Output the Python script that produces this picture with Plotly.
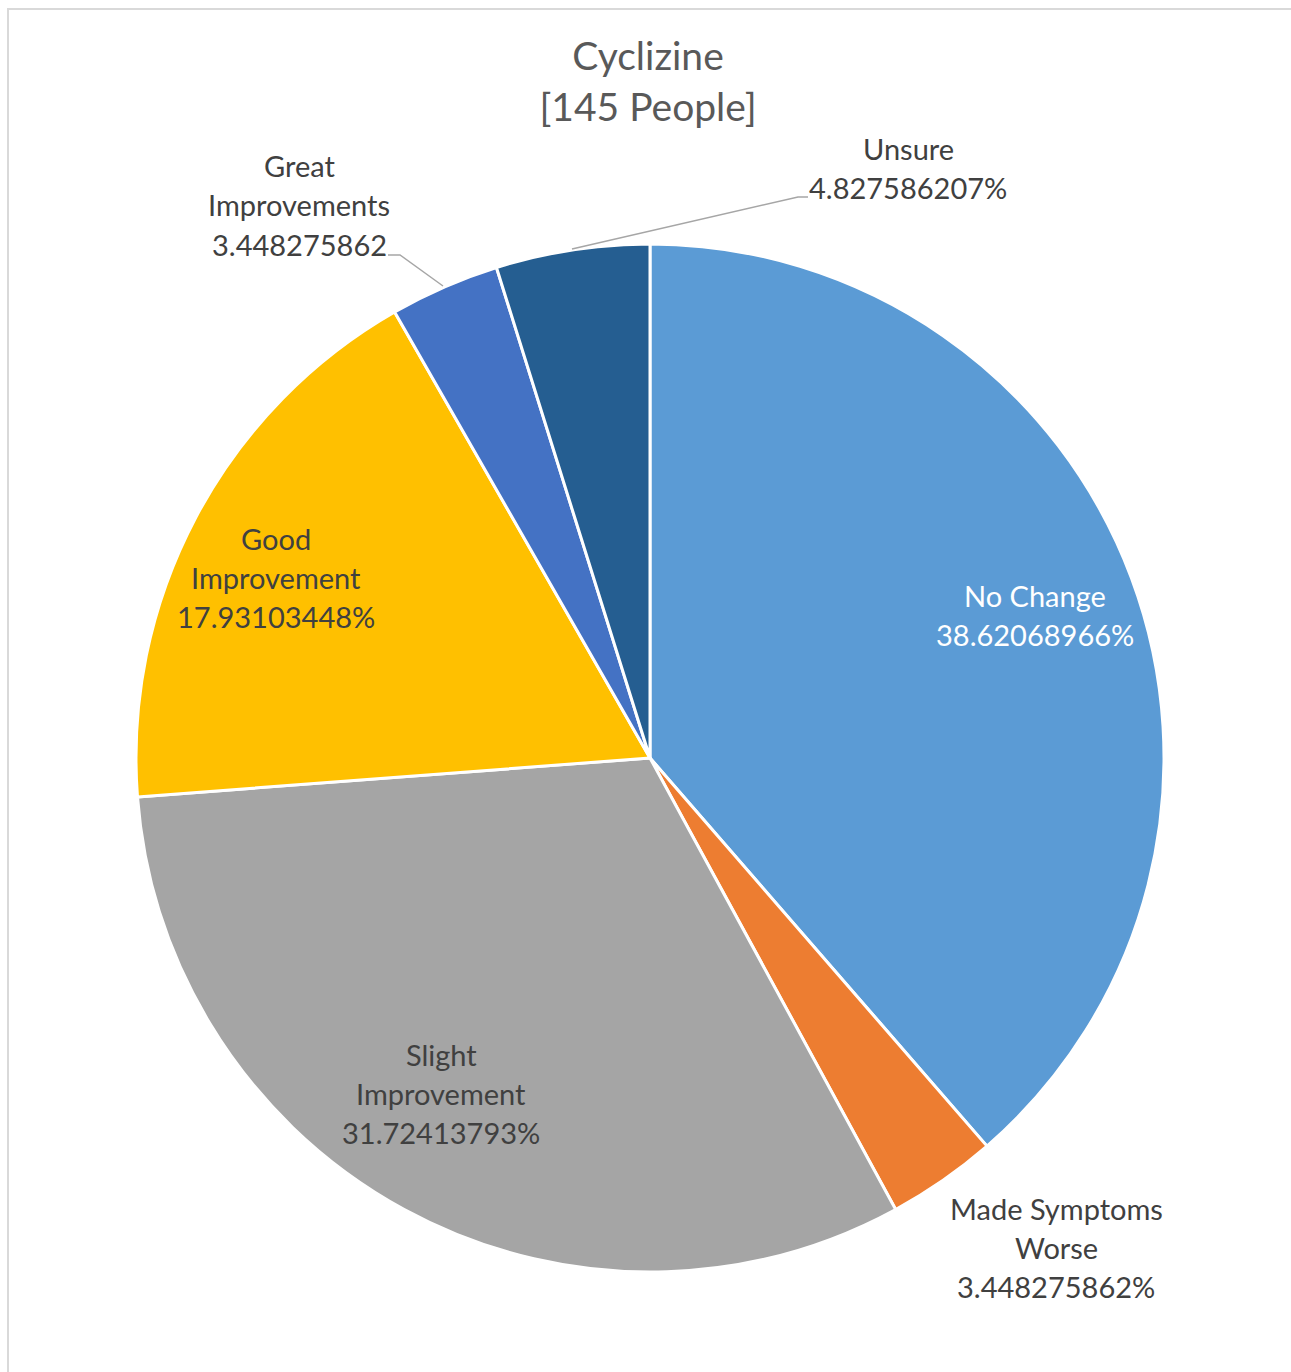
import plotly.graph_objects as go

# Survey responses for Cyclizine (145 respondents)
categories = ["No Change", "Made Symptoms Worse", "Slight Improvement",
              "Good Improvement", "Great Improvements", "Unsure"]
counts = [56, 5, 46, 26, 5, 7]
colors = ["#5B9BD5", "#ED7D31", "#A5A5A5", "#FFC000", "#4472C4", "#255E91"]
# how each category name is wrapped in its data label
label_lines = [["No Change"], ["Made Symptoms", "Worse"], ["Slight", "Improvement"],
               ["Good", "Improvement"], ["Great", "Improvements"], ["Unsure"]]
label_suffix = ["%", "%", "%", "%", "", "%"]
label_colors = ["#FFFFFF", "#404040", "#404040", "#404040", "#404040", "#404040"]

W, H = 1291, 1372
total = sum(counts)
percents = [c / total * 100 for c in counts]

FONT = "Lato"
LABEL_SIZE = 29
LINE_GAP = 39

# label block centers (pixels) and leader-line paths
label_pos = [(1035, 615), (1056, 1247), (441, 1093), (276, 577), (299, 205), (908, 168)]
leaders = {4: [(388, 255), (400, 255), (443, 286)],
           5: [(808, 197), (798, 197), (572, 249)]}


def px(x):
    return x / W


def py(y):
    return 1 - y / H


# pie geometry: center (650, 758), radius 514
cx, cy, r = 650, 758, 514

fig = go.Figure(go.Pie(
    labels=categories,
    values=counts,
    sort=False,
    direction="clockwise",
    rotation=0,
    marker=dict(colors=colors, line=dict(color="#FFFFFF", width=3)),
    textinfo="none",
    hoverinfo="label+value+percent",
    showlegend=False,
    domain=dict(x=[px(cx - r), px(cx + r)], y=[py(cy + r), py(cy - r)]),
))

annotations = []
for i, name_lines in enumerate(label_lines):
    lines = name_lines + [f"{percents[i]:.10g}{label_suffix[i]}"]
    x0, yc = label_pos[i]
    n = len(lines)
    for k, t in enumerate(lines):
        y = yc + (k - (n - 1) / 2) * LINE_GAP
        annotations.append(dict(
            x=px(x0), y=py(y), xref="paper", yref="paper",
            text=t, showarrow=False, xanchor="center", yanchor="middle",
            font=dict(family=FONT, size=LABEL_SIZE, color=label_colors[i]),
        ))

shapes = []
for i, pts in leaders.items():
    path = "M " + " L ".join(f"{px(x)},{py(y)}" for x, y in pts)
    shapes.append(dict(type="path", xref="paper", yref="paper", path=path,
                       line=dict(color="#A6A6A6", width=1.5)))

# chart area border
shapes.append(dict(type="rect", xref="paper", yref="paper",
                   x0=px(8), x1=1.05, y0=-0.05, y1=py(9),
                   line=dict(color="#D9D9D9", width=2), fillcolor="rgba(0,0,0,0)",
                   layer="below"))

fig.update_layout(
    width=W, height=H,
    margin=dict(l=0, r=0, t=0, b=0),
    paper_bgcolor="#FFFFFF",
    title=dict(text="Cyclizine<br>[145 People]", x=px(648), xanchor="center",
               y=py(70), yanchor="middle",
               font=dict(family=FONT, size=39, color="#595959")),
    annotations=annotations,
    shapes=shapes,
)

fig.write_html("out.html")
